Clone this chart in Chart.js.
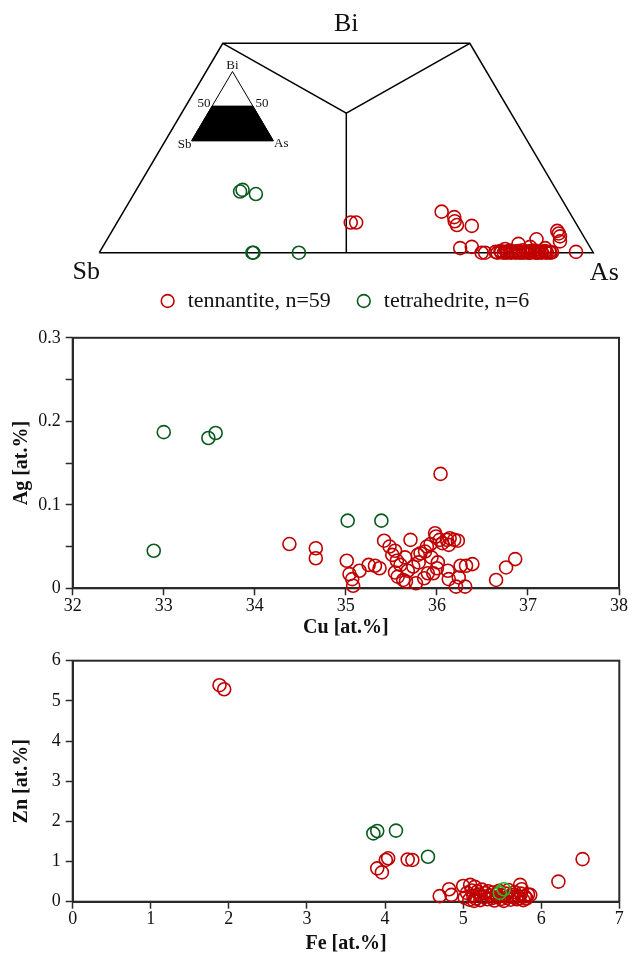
<!DOCTYPE html>
<html><head><meta charset="utf-8">
<script src="https://cdn.jsdelivr.net/npm/chart.js@4/dist/chart.umd.min.js"></script>
<style>
html,body{margin:0;padding:0;background:#fff;}
body{width:628px;height:956px;position:relative;overflow:hidden;}
canvas{position:absolute;left:0;}
</style></head><body>
<canvas id="tern" width="628" height="322" style="top:0px"></canvas>
<canvas id="agcu" width="628" height="318" style="top:322px"></canvas>
<canvas id="znfe" width="628" height="316" style="top:640px"></canvas>
<script>
// ---------------- DATA ----------------
const seriesNames = ['tennantite, n=59', 'tetrahedrite, n=6'];
const ternCorners = ['Sb', 'Bi', 'As'];

// Ternary Sb-Bi-As (at.% of Sb+As+Bi): As and Bi per analysis
const tnAs = [47.3,48.4,64.4,67.6,68.2,69.1,72.2,72.5,74.7,77.4,78.1,90.1,90.7,91.3,91.9,96.4,86.9,83.8,86.5,81.7,89.7,
  80.1,80.6,81.0,81.3,81.9,82.2,82.5,82.9,83.1,83.4,83.6,84.1,84.3,84.6,84.9,85.2,85.4,85.7,85.9,86.2,
  86.6,86.8,87.1,87.3,87.6,87.9,88.1,88.4,88.7,88.9,89.3,89.6,90.0,90.3,90.6,91.0,91.3,91.6];
const tnBi = [7.2,7.2,9.8,8.5,7.5,6.6,6.4,1.1,1.4,0.0,0.0,5.2,4.6,3.9,2.7,0.2,3.2,2.1,1.4,0.9,1.1,
  0.2,0.0,0.4,0.1,0.0,0.3,0.0,0.5,0.1,0.0,0.3,0.2,0.0,0.4,0.1,0.0,0.6,0.2,0.0,0.3,
  0.1,0.0,0.4,0.0,0.2,0.5,0.1,0.0,0.3,0.0,0.2,0.0,0.4,0.1,0.0,0.2,0.0,0.1];
const ttAs = [21.2,21.5,24.7,31.0,31.2,40.4];
const ttBi = [14.6,15.0,14.0,0.0,0.0,0.0];

// Ag vs Cu (at.%)
const tnCu = [34.38,34.67,34.67,36.04,35.01,35.04,35.07,35.08,35.15,35.25,35.32,35.37,35.42,35.48,35.54,35.51,35.56,35.54,35.57,
  35.65,35.63,35.66,35.71,35.74,35.77,35.79,35.82,35.86,35.89,35.90,35.94,35.93,35.96,35.98,35.99,36.00,36.03,36.06,36.11,
  36.13,36.14,36.19,36.23,36.12,36.13,36.21,36.24,36.26,36.31,36.32,36.39,36.65,36.76,36.86,35.87,35.60,35.80,35.68,36.01];
const tnAg = [0.053,0.048,0.036,0.137,0.033,0.017,0.011,0.003,0.021,0.028,0.027,0.024,0.057,0.050,0.045,0.040,0.033,0.019,0.014,
  0.037,0.010,0.008,0.058,0.026,0.006,0.040,0.042,0.012,0.050,0.018,0.037,0.053,0.018,0.066,0.062,0.024,0.058,0.054,0.058,
  0.052,0.060,0.058,0.057,0.021,0.011,0.002,0.013,0.027,0.002,0.027,0.029,0.010,0.025,0.035,0.044,0.028,0.031,0.021,0.031];
const ttCu = [32.89,33.00,33.49,33.57,35.02,35.39];
const ttAg = [0.045,0.187,0.180,0.186,0.081,0.081];

// Zn vs Fe (at.%)
const tnFe = [1.88,1.94,3.90,3.96,4.01,4.04,4.29,4.35,6.53,6.22,4.70,4.82,4.85,5.00,5.09,5.15,5.73,5.75,5.86,
  5.02,5.05,5.08,5.11,5.13,5.16,5.18,5.21,5.22,5.24,5.27,5.28,5.31,5.32,5.34,5.37,5.38,5.40,5.43,5.44,
  5.46,5.49,5.50,5.52,5.55,5.56,5.58,5.61,5.62,5.64,5.66,5.69,5.70,5.72,5.74,5.77,5.79,5.81,5.83,5.14];
const tnZn = [5.39,5.29,0.83,0.73,1.04,1.08,1.05,1.04,1.06,0.50,0.14,0.31,0.17,0.39,0.42,0.37,0.42,0.31,0.17,
  0.10,0.22,0.05,0.28,0.15,0.08,0.25,0.18,0.04,0.30,0.12,0.21,0.06,0.26,0.16,0.09,0.23,0.03,0.19,0.11,
  0.27,0.07,0.15,0.02,0.20,0.10,0.29,0.05,0.17,0.12,0.24,0.06,0.14,0.09,0.20,0.04,0.13,0.08,0.18,0.02];
const ttFe = [3.85,3.90,4.14,4.55,5.47,5.52];
const ttZn = [1.70,1.76,1.77,1.12,0.22,0.31];

const cuTicks = [32,33,34,35,36,37,38];
const agTickLabels = [0,0.1,0.2,0.3];
const feTicks = [0,1,2,3,4,5,6,7];
const znTicks = [0,1,2,3,4,5,6];

// ---------------- STYLE ----------------
const SERIF = "'Liberation Serif','Times New Roman',serif";
const RED = '#c00000', GREEN = '#0b5a1e', GREEN2 = '#27b827', AXIS = '#2a2a2a';
const pointStyle = c => ({pointRadius:6.5, pointBorderWidth:1.6, pointBorderColor:c, pointBackgroundColor:'rgba(0,0,0,0)', borderColor:c, backgroundColor:'rgba(0,0,0,0)', showLine:false, clip:false});

// ternary -> cartesian (triangle base = 1 unit, Bi fraction on y)
function tern(as, bi){ return {x:(as + bi/2)/100, y:bi/100}; }
const INSET = {x:0.187, y:0.2674, s:0.1652};
function ternInset(as, bi){ return {x:INSET.x + INSET.s*(as + bi/2)/100, y:INSET.y + INSET.s*bi/100}; }
const lineDs = (pts, extra) => Object.assign({type:'line', data:pts, borderColor:'#000', borderWidth:1.5, pointRadius:0, fill:false, tension:0, clip:false}, extra||{});

// ---------------- TERNARY ----------------
const ternLabels = {
  id:'ternLabels',
  afterDraw(chart){
    const {ctx, scales:{x, y}} = chart;
    const P = p => [x.getPixelForValue(p.x), y.getPixelForValue(p.y)];
    ctx.save();
    ctx.fillStyle = '#111'; ctx.textAlign = 'center'; ctx.textBaseline = 'middle';
    ctx.font = '26px ' + SERIF;
    let p = P(tern(0,0)); ctx.fillText(ternCorners[0], p[0]-13, p[1]+19);
    p = P(tern(25,50)); ctx.fillText(ternCorners[1], p[0], p[1]-19);
    p = P(tern(100,0)); ctx.fillText(ternCorners[2], p[0]+11, p[1]+20);
    ctx.font = '13px ' + SERIF;
    p = P(ternInset(0,100)); ctx.fillText('Bi', p[0], p[1]-6);
    p = P(ternInset(0,50)); ctx.fillText('50', p[0]-8, p[1]-3);
    p = P(ternInset(50,50)); ctx.fillText('50', p[0]+9, p[1]-3);
    p = P(ternInset(0,0)); ctx.fillText('Sb', p[0]-7, p[1]+4);
    p = P(ternInset(100,0)); ctx.fillText('As', p[0]+8, p[1]+3);
    ctx.restore();
  }
};

new Chart(document.getElementById('tern'), {
  type:'scatter',
  data:{datasets:[
    Object.assign({label:seriesNames[0], data:tnAs.map((a,i)=>tern(a, tnBi[i]))}, pointStyle(RED)),
    Object.assign({label:seriesNames[1], data:ttAs.map((a,i)=>tern(a, ttBi[i]))}, pointStyle(GREEN)),
    lineDs([[0,0],[0,50],[50,50],[100,0],[0,0]].map(c=>tern(c[0],c[1]))),
    lineDs([[0,50],[100/3,100/3],[50,50]].map(c=>tern(c[0],c[1]))),
    lineDs([[100/3,100/3],[50,0]].map(c=>tern(c[0],c[1]))),
    lineDs([[0,0],[100,0],[0,100],[0,0]].map(c=>ternInset(c[0],c[1])), {borderWidth:1}),
    lineDs([[0,0],[100,0],[50,50],[0,50],[0,0]].map(c=>ternInset(c[0],c[1])), {borderWidth:1, fill:'shape', backgroundColor:'#000'})
  ]},
  options:{
    responsive:false, animation:false, events:[],
    layout:{autoPadding:false, padding:{left:60, right:0, top:0, bottom:0}},
    scales:{
      x:{type:'linear', display:false, min:-0.07955, max:1.07024},
      y:{type:'linear', display:false, min:-0.03176, max:0.60339}
    },
    plugins:{
      tooltip:{enabled:false},
      legend:{position:'bottom', labels:{filter:item=>item.datasetIndex<2, usePointStyle:true, pointStyle:'circle', boxWidth:18, boxHeight:9, padding:24, color:'#111', font:{family:SERIF, size:22}}}
    }
  },
  plugins:[ternLabels]
});

// ---------------- XY PANELS ----------------
const framePlugin = {
  id:'frame',
  beforeDatasetsDraw(chart){
    const {ctx, chartArea:a} = chart;
    ctx.save(); ctx.strokeStyle = AXIS; ctx.lineWidth = 2;
    ctx.strokeRect(a.left, a.top, a.right-a.left, a.bottom-a.top);
    ctx.restore();
  }
};
function axis(min, max, step, title, fit, cb, pad){
  return {
    type:'linear', min, max,
    afterFit: fit,
    border:{display:true, color:AXIS, width:2},
    grid:{display:true, drawOnChartArea:false, drawTicks:true, tickLength:7, tickWidth:1.5, tickColor:AXIS},
    ticks:{stepSize:step, autoSkip:false, maxRotation:0, color:'#111', padding:pad, font:{family:SERIF, size:18}, callback:cb},
    title:{display:true, text:title, color:'#111', font:{family:SERIF, size:20, weight:'bold'}, padding:{top:10, bottom:0}}
  };
}
function xyChart(id, dsRed, dsGreen, xs, ys, padTop){
  return new Chart(document.getElementById(id), {
    type:'scatter',
    data:{datasets:[dsRed, dsGreen]},
    options:{
      responsive:false, animation:false, events:[],
      layout:{autoPadding:false, padding:{left:0, right:8.7, top:padTop, bottom:0}},
      scales:{x:xs, y:ys},
      plugins:{legend:{display:false}, tooltip:{enabled:false}}
    },
    plugins:[framePlugin]
  });
}
const intLabel = v => String(v);

xyChart('agcu',
  Object.assign({label:seriesNames[0], order:1, data:tnCu.map((c,i)=>({x:c, y:tnAg[i]}))}, pointStyle(RED)),
  Object.assign({label:seriesNames[1], order:0, data:ttCu.map((c,i)=>({x:c, y:ttAg[i]}))}, pointStyle(GREEN)),
  axis(cuTicks[0], cuTicks[cuTicks.length-1], 1, 'Cu [at.%]', s=>{s.height=51.7;}, intLabel, 0),
  axis(agTickLabels[0], agTickLabels[agTickLabels.length-1], 0.05, 'Ag [at.%]', s=>{s.width=72.7;}, v=>{
    const hit = agTickLabels.find(t=>Math.abs(t-v)<1e-9); return hit===undefined ? '' : String(hit);
  }, 5),
  14.7);

const ttZnStyle = pointStyle(GREEN);
ttZnStyle.pointBorderColor = [GREEN, GREEN, GREEN, GREEN, GREEN2, GREEN2];
xyChart('znfe',
  Object.assign({label:seriesNames[0], order:1, data:tnFe.map((f,i)=>({x:f, y:tnZn[i]}))}, pointStyle(RED)),
  Object.assign({label:seriesNames[1], order:0, data:ttFe.map((f,i)=>({x:f, y:ttZn[i]}))}, ttZnStyle),
  axis(feTicks[0], feTicks[feTicks.length-1], 1, 'Fe [at.%]', s=>{s.height=54.3;}, intLabel, 0),
  axis(znTicks[0], znTicks[znTicks.length-1], 1, 'Zn [at.%]', s=>{s.width=72.7;}, intLabel, 5),
  20.7);
</script>
</body></html>
